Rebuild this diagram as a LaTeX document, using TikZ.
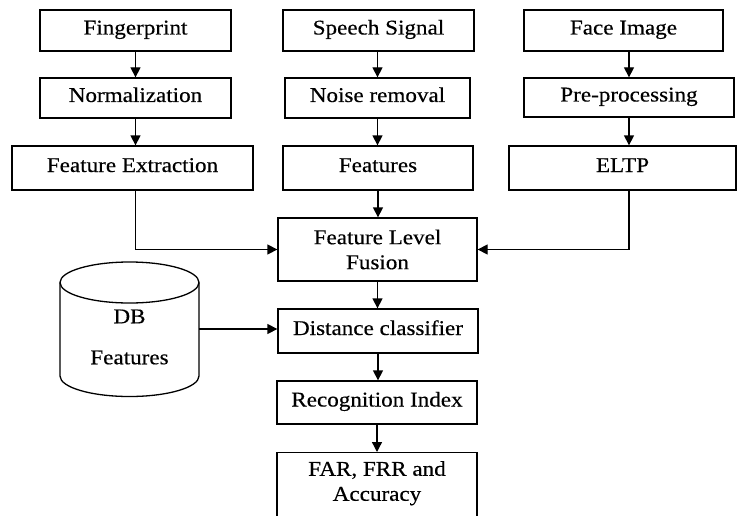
\documentclass[tikz,border=0pt]{standalone}
\usepackage{fontspec}
\setmainfont[FakeStretch=1.1,FakeBold=0.4]{Liberation Serif}
\usetikzlibrary{arrows.meta,calc}
\begin{document}
\begin{tikzpicture}[x=1pt,y=-1pt,
  box/.style={draw, line width=1.3pt, rectangle, inner sep=0pt, font=\fontsize{21}{25}\selectfont, text height=15pt, text depth=7pt},
  box2/.style={draw, line width=1.3pt, rectangle, inner sep=0pt, align=center, font=\fontsize{21}{25}\selectfont},
  txt/.style={inner sep=0pt, align=center, font=\fontsize{21}{25}\selectfont},
  arr/.style={line width=1.3pt, -{Triangle[length=10pt,width=10pt]}}]
\useasboundingbox (0,0) rectangle (738,516);

\node[box, minimum width=191pt, minimum height=41pt] (fp) at (135.5,30.5) {Fingerprint};
\node[box, minimum width=191pt, minimum height=40pt] (norm) at (135.5,98) {Normalization};
\node[box, minimum width=241pt, minimum height=44pt] (fe) at (132.5,168) {Feature Extraction};

\node[box, minimum width=191pt, minimum height=41pt] (sp) at (378.5,30.5) {Speech Signal};
\node[box, minimum width=185pt, minimum height=40pt] (nr) at (377.5,98) {Noise removal};
\node[box, minimum width=190pt, minimum height=44pt] (ft) at (378,168) {Features};

\node[box, minimum width=199pt, minimum height=41pt] (face) at (623.5,30.5) {Face Image};
\node[box, minimum width=210pt, minimum height=39pt] (pre) at (629,97.5) {Pre-processing};
\node[box, minimum width=227pt, minimum height=44pt] (eltp) at (622.5,168) {ELTP};

\node[box2, minimum width=199pt, minimum height=63pt] (fusion) at (377.5,249.5) {Feature Level\\Fusion};
\node[box, minimum width=200pt, minimum height=44pt] (dist) at (378,331) {Distance classifier};
\node[box, minimum width=200pt, minimum height=43pt] (rec) at (377,402.5) {Recognition Index};
\node[draw, line width=1.3pt, rectangle, minimum width=200pt, minimum height=100pt, anchor=north] (far) at (377,452) {};
\node[txt, anchor=north] (fartxt) at ($(far.north)+(0,9)$) {FAR, FRR and\\Accuracy};

% database cylinder
\node[inner sep=0pt, minimum width=139pt, minimum height=134pt] (db) at (129.5,329) {};
\draw[line width=1.3pt] (60,282.5) -- (60,376) arc[start angle=180, end angle=0, x radius=69.5, y radius=20.5] -- (199,282.5);
\draw[line width=1.3pt] (129.5,282.5) ellipse[x radius=69.5, y radius=20.5];
\node[txt] (dbtxt) at (129.5,337) {DB\\[16pt]Features};

% connectors
\draw[arr] (fp.south) -- (norm.north);
\draw[arr] (norm.south) -- (norm.south |- fe.north);
\draw[arr] (nr.north |- sp.south) -- (nr.north);
\draw[arr] (nr.south) -- (nr.south |- ft.north);
\draw[arr] (pre.north |- face.south) -- (pre.north);
\draw[arr] (pre.south) -- (pre.south |- eltp.north);
\draw[arr] (fe.south -| norm.south) |- (fusion.west);
\draw[arr] (eltp.south -| pre.south) |- (fusion.east);
\draw[arr] (ft.south) -- (ft.south |- fusion.north);
\draw[arr] (fusion.south) -- (fusion.south |- dist.north);
\draw[arr] (dist.south) -- (dist.south |- rec.north);
\draw[arr] (rec.south) -- (far.north);
\draw[arr] (db.east) -- (db.east -| dist.west);
\end{tikzpicture}
\end{document}
